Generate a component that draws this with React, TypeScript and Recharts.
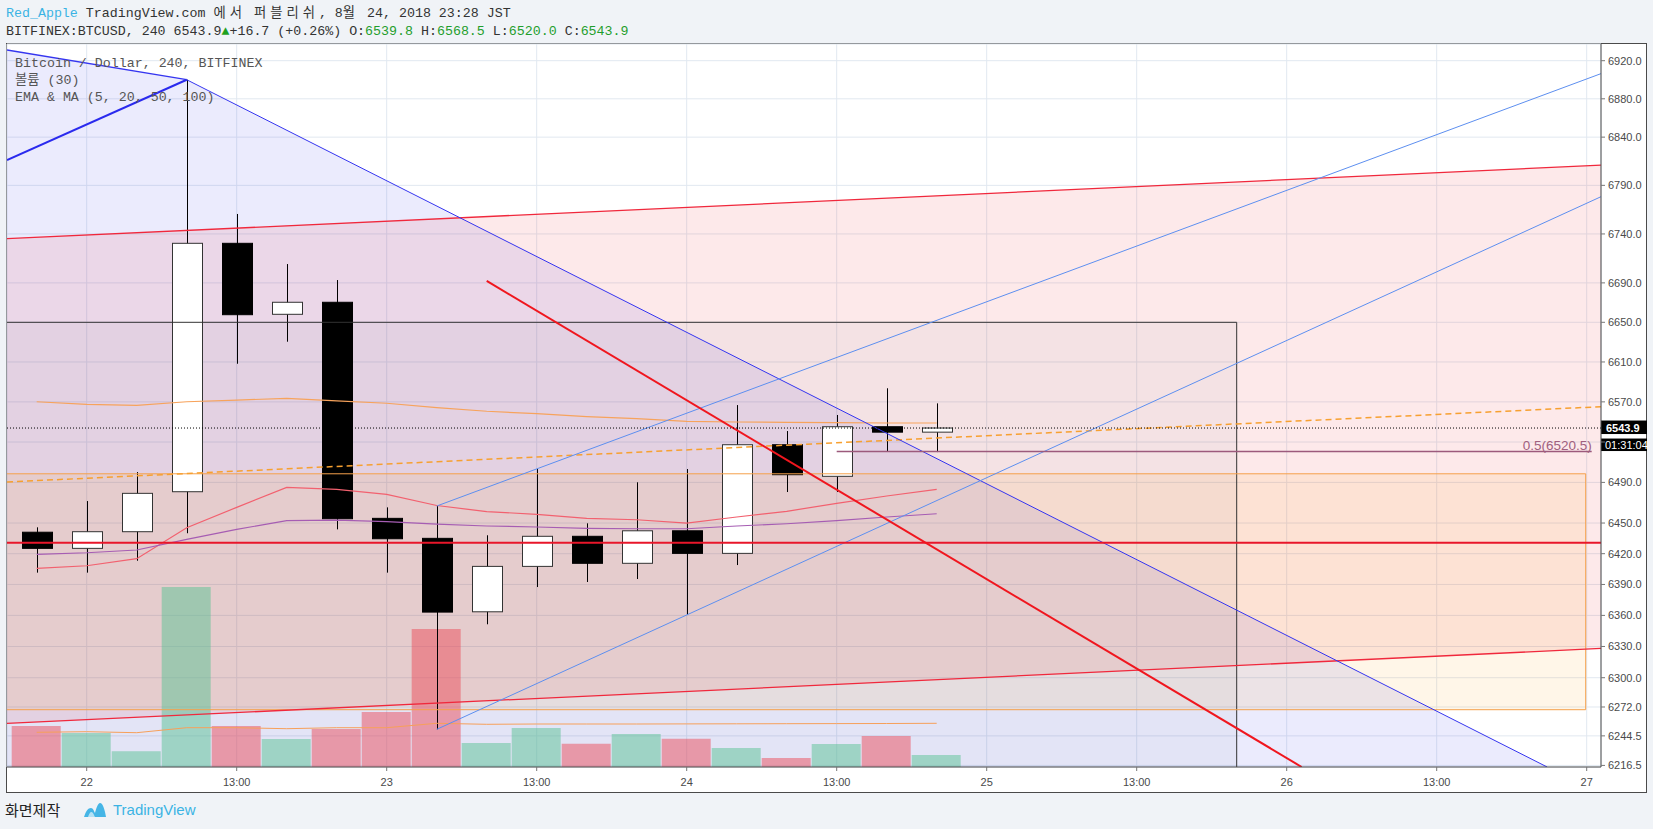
import React from 'react';
import { ComposedChart, XAxis, YAxis, CartesianGrid, Bar, Line, Area, ReferenceLine, Cell } from 'recharts';

// ---- candles: one 4h bar per index (index 0 = 21 Aug 21:00 JST) ----
const barIndex = [0, 1, 2, 3, 4, 5, 6, 7, 8, 9, 10, 11, 12, 13, 14, 15, 16, 17, 18];
const opens = [6441, 6425.2, 6441.5, 6480.8, 6730.4, 6658.1, 6670.3, 6454.6, 6435, 6363.5, 6407.6, 6437, 6410.6, 6442.4, 6420.3, 6527.3, 6496, 6545.2, 6539.8];
const highs = [6445.8, 6471.6, 6500.2, 6900, 6760.5, 6709.2, 6692.9, 6465.4, 6466.7, 6438, 6503.2, 6449.7, 6490.1, 6503.2, 6566.8, 6540.9, 6556.9, 6583.6, 6568.5];
const lows = [6401.5, 6401.5, 6413.1, 6440, 6608.2, 6630.4, 6443.8, 6401.5, 6250.7, 6351.4, 6387.5, 6392.4, 6395.3, 6360.4, 6408.9, 6480.5, 6480.5, 6520.5, 6520];
const closes = [6425.2, 6441.5, 6479.2, 6730.4, 6657.7, 6670.3, 6454.2, 6434.6, 6363.2, 6407.6, 6437, 6410.6, 6442.4, 6420.3, 6527.3, 6497.6, 6545.2, 6539.8, 6543.9];
const volumes = [4100, 3400, 1570, 18000, 4100, 2800, 3800, 5500, 13800, 2400, 3900, 2330, 3300, 2830, 1900, 900, 2300, 3100, 1200];
const volumeMA = [3470, 3530, 3430, 3930, 3930, 3830, 3930, 3930, 4370, 4270, 4300, 4300, 4300, 4310, 4320, 4330, 4340, 4350, 4370];

// ---- EMA & MA indicator lines ----
const maOrange = [6570.1, 6567.5, 6566.5, 6570.1, 6571.8, 6573.5, 6570.9, 6568.6, 6564.2, 6560.6, 6558.2, 6555.2, 6553.2, 6550.6, 6549.9, 6549.6, 6549.2, 6548.9, 6548.9];
const emaRed = [6405.7, 6408.2, 6415.1, 6445.4, 6465.4, 6485.1, 6483.2, 6478.2, 6467.2, 6461.3, 6458.5, 6454.6, 6453.2, 6450.0, 6455.9, 6461.5, 6469.4, 6476.6, 6483.2];
const maPurple = [6419.4, 6420.9, 6423.6, 6434.0, 6443.8, 6452.3, 6452.9, 6451.3, 6449.0, 6447.1, 6446.1, 6444.8, 6444.4, 6444.4, 6447.1, 6449.3, 6452.3, 6455.9, 6459.1];

// ---- axes ----
const xDomain = [-0.594, 31.286];
const priceDomain = [6215, 6937.6];
const volumeDomain = [0, 72300];
const xTickIndex = [1, 4, 7, 10, 13, 16, 19, 22, 25, 28, 31];
const xTickLabels = ['22', '13:00', '23', '13:00', '24', '13:00', '25', '13:00', '26', '13:00', '27'];
const priceTicks = [6920, 6880, 6840, 6790, 6740, 6690, 6650, 6610, 6570, 6530, 6490, 6450, 6420, 6390, 6360, 6330, 6300, 6272, 6244.5, 6216.5];
const hiddenPriceTickLabels = [6530];

// ---- drawings (bar index, price) ----
const wedgeI = [-0.594, 3, 30.21];
const wedgeTop = [6931.3, 6900, 6215];
const legTopI = [-0.594, 3];
const legTopP = [6931.3, 6900];
const legUpI = [-0.594, 3];
const legUpP = [6816.2, 6900];
const channelI = [-0.594, 31.286];
const channelUpper = [6735.1, 6810.9];
const channelLower = [6256.4, 6328.1];
const fanI = [8, 31.286];
const fanUpper = [6466.7, 6906.4];
const fanLower = [6250.7, 6778.3];
const redDownI = [9, 25.3];
const redDownP = [6692, 6215];
const blackBoxI = [-1, 24];
const blackBoxP = [6215, 6650];
const orangeBoxI = [-1, 30.98];
const orangeBoxP = [6269.4, 6498.5];
const dashI = [-0.594, 31.286];
const dashP = [6490.4, 6565.2];
const supportLevel = 6430.7;
const lastPrice = 6543.9;
const fibI = [16, 31.1];
const fibLevel = 6520.5;
const fibLabel = '0.5(6520.5)';
const countdownLabel = '01:31:04';

const data = barIndex.map((i, k) => ({
  i,
  range: [lows[k], highs[k]],
  o: opens[k], h: highs[k], l: lows[k], c: closes[k],
  vol: volumes[k], volMA: volumeMA[k],
  ma: maOrange[k], ema: emaRed[k], ma2: maPurple[k],
}));

const pts = (is: number[], ps: number[]) => is.map((i, k) => ({ i, y: ps[k] }));
const wedgeData = wedgeI.map((i, k) => ({ i, r: [priceDomain[0], wedgeTop[k]] }));
const channelData = channelI.map((i, k) => ({ i, r: [channelLower[k], channelUpper[k]] }));
const blackBoxData = blackBoxI.map((i) => ({ i, r: [blackBoxP[0], blackBoxP[1]] }));
const orangeBoxData = orangeBoxI.map((i) => ({ i, r: [orangeBoxP[0], orangeBoxP[1]] }));
const blackBoxEdge = [
  { i: blackBoxI[0], y: blackBoxP[1] },
  { i: blackBoxI[1], y: blackBoxP[1] },
  { i: blackBoxI[1], y: blackBoxP[0] },
];
const orangeBoxEdge = [
  { i: orangeBoxI[0], y: orangeBoxP[1] },
  { i: orangeBoxI[1], y: orangeBoxP[1] },
  { i: orangeBoxI[1], y: orangeBoxP[0] },
  { i: orangeBoxI[0], y: orangeBoxP[0] },
];
const supportData = pts(channelI, [supportLevel, supportLevel]);

const MONO = "'Liberation Mono', 'DejaVu Sans Mono', 'Noto Sans CJK KR', monospace";
const SANS = "'Liberation Sans', Arial, sans-serif";

const CandleShape = (props: any) => {
  const { x, y, width, height, payload } = props;
  if (x == null || y == null || !payload) return null;
  const top = Math.min(y, y + height);
  const hgt = Math.abs(height);
  const lnH = Math.log(payload.h);
  const lnL = Math.log(payload.l);
  const py = (v: number) => top + (hgt * (lnH - Math.log(v))) / (lnH - lnL || 1);
  const cx = Math.round(x + width / 2) + 0.5;
  const bTop = py(Math.max(payload.o, payload.c));
  const bBot = py(Math.min(payload.o, payload.c));
  const up = payload.c >= payload.o;
  return (
    <g>
      <line x1={cx} x2={cx} y1={top} y2={top + hgt} stroke="#000" strokeWidth={1} />
      <rect x={cx - 15} y={bTop} width={30} height={Math.max(bBot - bTop, 2)} fill={up ? '#fff' : '#000'} stroke={up ? '#333' : '#000'} strokeWidth={1} />
    </g>
  );
};

const PriceTag = (props: any) => {
  const vb = props.viewBox || {};
  const x = (vb.x ?? 0) + (vb.width ?? 0);
  const y = vb.y ?? 0;
  return (
    <g>
      <rect x={x} y={y - 7.5} width={46} height={13.5} fill="#000" />
      <text x={x + 5} y={y + 4} fill="#fff" fontSize={11} fontWeight="bold" fontFamily={SANS}>{lastPrice.toFixed(1)}</text>
      <rect x={x} y={y + 10.5} width={46} height={12.5} fill="#000" />
      <text x={x + 4} y={y + 21} fill="#fff" fontSize={11} fontFamily={SANS}>{countdownLabel}</text>
    </g>
  );
};

const FibTag = (props: any) => {
  const vb = props.viewBox || {};
  const x = (vb.x ?? 0) + (vb.width ?? 0);
  const y = vb.y ?? 0;
  return (
    <text x={x} y={y - 2} textAnchor="end" fill="#a0607f" fontSize={13.5} fontFamily={SANS}>{fibLabel}</text>
  );
};

const lineProps = { dot: false, activeDot: false, isAnimationActive: false, type: 'linear' as const, xAxisId: 'x', yAxisId: 'p', dataKey: 'y' };

export default function App() {
  return (
    <div style={{ position: 'absolute', left: 0, top: 0, width: 1653, height: 829, background: '#f0f3f7', overflow: 'hidden' }}>
      <div style={{ position: 'absolute', left: 6, top: 6, fontFamily: MONO, fontSize: 13.3, lineHeight: '16px', color: '#333', whiteSpace: 'pre' }}>
        <span style={{ color: '#3bb3e4' }}>Red_Apple</span>
        <span> TradingView.com </span>
        <span style={{ letterSpacing: '4px' }}>에서</span>
        <span> </span>
        <span style={{ letterSpacing: '4px' }}>퍼블리쉬</span>
        <span>, 8</span>
        <span style={{ letterSpacing: '4px' }}>월</span>
        <span> 24, 2018 23:28 JST</span>
      </div>
      <div style={{ position: 'absolute', left: 6, top: 24, fontFamily: MONO, fontSize: 13.3, lineHeight: '16px', color: '#333', whiteSpace: 'pre' }}>
        <span>BITFINEX:BTCUSD, 240 6543.9</span>
        <span style={{ color: '#1fa11f' }}>▲</span>
        <span>+16.7 (+0.26%) O:</span>
        <span style={{ color: '#1f9e2c' }}>6539.8</span>
        <span> H:</span>
        <span style={{ color: '#1f9e2c' }}>6568.5</span>
        <span> L:</span>
        <span style={{ color: '#1f9e2c' }}>6520.0</span>
        <span> C:</span>
        <span style={{ color: '#1f9e2c' }}>6543.9</span>
      </div>

      <div style={{ position: 'absolute', left: 6, top: 43, width: 1641, height: 750, border: '1px solid #4a4a4a', boxSizing: 'border-box', background: '#fff' }} />

      <div style={{ position: 'absolute', left: 0, top: 0 }}>
        <ComposedChart width={1653} height={829} data={data} margin={{ top: 44, left: 7, right: 6, bottom: 37 }}>
          <CartesianGrid xAxisId="x" yAxisId="p" stroke="#e1e8f0" strokeWidth={1} />
          <XAxis
            xAxisId="x" dataKey="i" type="number" domain={xDomain} allowDataOverflow ticks={xTickIndex} interval={0}
            tickFormatter={(v: number) => xTickLabels[xTickIndex.indexOf(v)] ?? ''}
            height={25} tickSize={4} tickMargin={7}
            axisLine={{ stroke: '#4a4a4a' }} tickLine={{ stroke: '#777' }}
            tick={{ fill: '#4a4a4a', fontSize: 11, fontFamily: SANS }}
          />
          <XAxis xAxisId="xv" dataKey="i" type="number" domain={xDomain} allowDataOverflow hide />
          <YAxis
            yAxisId="p" orientation="right" type="number" scale="log" domain={priceDomain} allowDataOverflow
            ticks={priceTicks} interval={0} width={46} tickSize={4} tickMargin={3}
            tickFormatter={(v: number) => (hiddenPriceTickLabels.includes(v) ? '' : v.toFixed(1))}
            axisLine={{ stroke: '#4a4a4a' }} tickLine={{ stroke: '#777' }}
            tick={{ fill: '#4a4a4a', fontSize: 11, fontFamily: SANS }}
          />
          <YAxis yAxisId="v" type="number" domain={volumeDomain} allowDataOverflow hide />

          {/* drawing fills */}
          <Area data={wedgeData} dataKey="r" xAxisId="x" yAxisId="p" type="linear" stroke="none" fill="rgb(60,60,240)" fillOpacity={0.1} isAnimationActive={false} dot={false} activeDot={false} />
          <Area data={channelData} dataKey="r" xAxisId="x" yAxisId="p" type="linear" stroke="none" fill="rgb(235,35,45)" fillOpacity={0.1} isAnimationActive={false} dot={false} activeDot={false} />
          <Area data={blackBoxData} dataKey="r" xAxisId="x" yAxisId="p" type="linear" stroke="none" fill="rgb(100,120,140)" fillOpacity={0.06} isAnimationActive={false} dot={false} activeDot={false} />
          <Area data={orangeBoxData} dataKey="r" xAxisId="x" yAxisId="p" type="linear" stroke="none" fill="rgb(255,152,0)" fillOpacity={0.09} isAnimationActive={false} dot={false} activeDot={false} />

          {/* volume */}
          <Bar dataKey="vol" xAxisId="xv" yAxisId="v" barSize={49} isAnimationActive={false}>
            {data.map((d, k) => (
              <Cell key={k} fill={d.c >= d.o ? 'rgba(89,194,147,0.5)' : 'rgba(235,76,90,0.5)'} />
            ))}
          </Bar>
          <Line dataKey="volMA" xAxisId="xv" yAxisId="v" type="linear" stroke="#f7a05a" strokeWidth={1} dot={false} activeDot={false} isAnimationActive={false} />

          {/* box borders under candles */}
          <Line {...lineProps} data={blackBoxEdge} stroke="#333" strokeWidth={1} />
          <Line {...lineProps} data={orangeBoxEdge} stroke="#f5a04a" strokeWidth={1} />

          {/* candles */}
          <Bar dataKey="range" xAxisId="x" yAxisId="p" barSize={31} shape={CandleShape} isAnimationActive={false} />

          {/* indicators */}
          <Line dataKey="ma" xAxisId="x" yAxisId="p" type="linear" stroke="#f7a35c" strokeWidth={1.2} dot={false} activeDot={false} isAnimationActive={false} />
          <Line dataKey="ema" xAxisId="x" yAxisId="p" type="linear" stroke="#f2616f" strokeWidth={1.2} dot={false} activeDot={false} isAnimationActive={false} />
          <Line dataKey="ma2" xAxisId="x" yAxisId="p" type="linear" stroke="#a65db3" strokeWidth={1.2} dot={false} activeDot={false} isAnimationActive={false} />

          {/* drawing lines */}
          <Line {...lineProps} data={pts(channelI, channelUpper)} stroke="#f0283c" strokeWidth={1.3} />
          <Line {...lineProps} data={pts(channelI, channelLower)} stroke="#f0283c" strokeWidth={1.3} />
          <Line {...lineProps} data={pts(dashI, dashP)} stroke="#f7a030" strokeWidth={1.5} strokeDasharray="6 4" />
          <Line {...lineProps} data={pts(wedgeI.slice(1), wedgeTop.slice(1))} stroke="#3535f0" strokeWidth={1} />
          <Line {...lineProps} data={pts(legTopI, legTopP)} stroke="#3535f0" strokeWidth={1.3} />
          <Line {...lineProps} data={pts(legUpI, legUpP)} stroke="#2a2aee" strokeWidth={2} />
          <Line {...lineProps} data={pts(fanI, fanUpper)} stroke="#5d8ff0" strokeWidth={1} />
          <Line {...lineProps} data={pts(fanI, fanLower)} stroke="#5d8ff0" strokeWidth={1} />
          <Line {...lineProps} data={supportData} stroke="#e8162a" strokeWidth={2} />
          <Line {...lineProps} data={pts(redDownI, redDownP)} stroke="#f0161e" strokeWidth={2} />

          <ReferenceLine
            xAxisId="x" yAxisId="p"
            segment={[{ x: fibI[0], y: fibLevel }, { x: fibI[1], y: fibLevel }]}
            stroke="#9c5a7c" strokeWidth={1.5} label={FibTag}
          />
          <ReferenceLine xAxisId="x" yAxisId="p" y={lastPrice} stroke="#000" strokeWidth={1} strokeDasharray="1 2" label={PriceTag} />
        </ComposedChart>
      </div>

      <div style={{ position: 'absolute', left: 15, top: 55, fontFamily: MONO, fontSize: 13.3, lineHeight: '17px', color: '#555', whiteSpace: 'pre' }}>
        <div>Bitcoin / Dollar, 240, BITFINEX</div>
        <div>볼륨 (30)</div>
        <div>EMA &amp; MA (5, 20, 50, 100)</div>
      </div>

      <div style={{ position: 'absolute', left: 5, top: 800, fontFamily: "'Noto Sans CJK KR', sans-serif", fontSize: 15, lineHeight: '20px', color: '#222' }}>화면제작</div>
      <svg style={{ position: 'absolute', left: 84, top: 802 }} width={22} height={16} viewBox="0 0 22 16">
        <path d="M0 15 C2 9 4 6 7 6 C9 6 10 9 11 11 C12 7 14 1 16 1 C19 1 21 9 22 15 Z" fill="#45b5e6" />
        <path d="M4 15 C5 12 6 10 7.5 10 C9 10 10 13 11 15 Z" fill="#ffffff" opacity={0.6} />
      </svg>
      <div style={{ position: 'absolute', left: 113, top: 800, fontFamily: SANS, fontSize: 15, lineHeight: '20px', color: '#3bb3e4' }}>TradingView</div>
    </div>
  );
}
